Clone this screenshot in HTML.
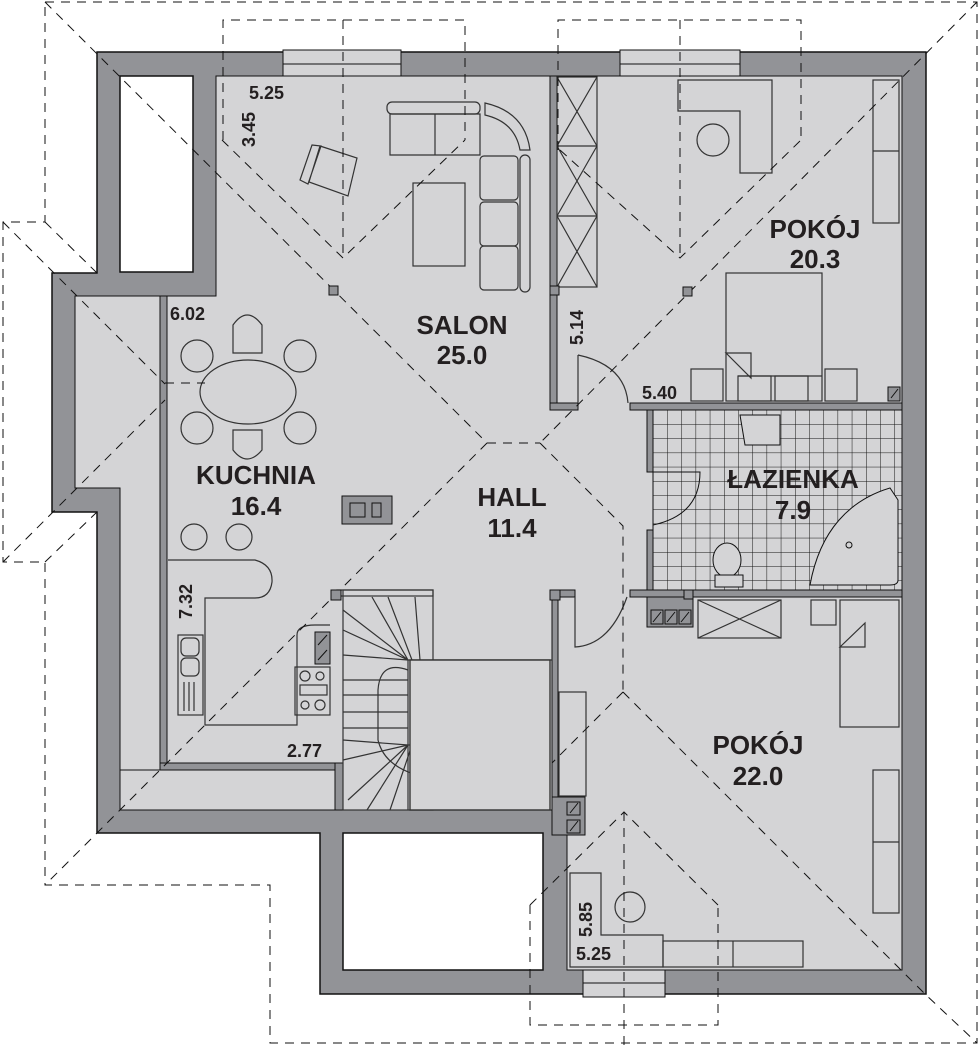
<!DOCTYPE html>
<html><head><meta charset="utf-8"><style>
html,body{margin:0;padding:0;background:#fff}
svg{display:block}
text{font-family:"Liberation Sans",sans-serif;font-weight:bold;fill:#231f20}
</style></head><body>
<svg width="978" height="1046" viewBox="0 0 978 1046" xmlns="http://www.w3.org/2000/svg">
<defs>
<pattern id="tile" x="653" y="410" width="14.2" height="14.2" patternUnits="userSpaceOnUse">
<rect width="14.2" height="14.2" fill="#d4d4d6"/>
<path d="M0 0H14.2M0 0V14.2" stroke="#111" stroke-width="1"/>
</pattern>
</defs>
<path d="M97 52H926V994H320V833H97V512H52V273H97Z" fill="#929397" stroke="#111" stroke-width="1.5"/>
<path d="M216 76H902V970H567V810H343V770H160V296H216Z" fill="#d4d4d6" stroke="#111" stroke-width="1"/>
<path d="M75 296H160V810H120V488H75Z" fill="#d4d4d6" stroke="#111"/>
<rect x="120" y="770" width="215" height="40" fill="#d4d4d6" stroke="#111"/>
<rect x="120" y="76" width="73" height="196" fill="#fff" stroke="#111" stroke-width="1.5"/>
<rect x="343" y="833" width="200" height="137" fill="#fff" stroke="#111" stroke-width="1.5"/>
<rect x="283" y="50" width="118" height="26" fill="#d4d4d6" stroke="#111"/>
<line x1="283" y1="64" x2="401" y2="64" stroke="#111"/>
<rect x="620" y="50" width="120" height="26" fill="#d4d4d6" stroke="#111"/>
<line x1="620" y1="64" x2="740" y2="64" stroke="#111"/>
<rect x="583" y="970" width="82" height="27" fill="#d4d4d6" stroke="#111"/>
<line x1="583" y1="983" x2="665" y2="983" stroke="#111"/>
<rect x="160" y="296" width="7" height="474" fill="#929397" stroke="#111"/>
<rect x="160" y="763" width="183" height="7" fill="#929397" stroke="#111"/>
<rect x="335" y="763" width="8" height="47" fill="#929397" stroke="#111"/>
<rect x="550" y="76" width="7" height="334" fill="#929397" stroke="#111"/>
<rect x="550" y="403" width="28" height="7" fill="#929397" stroke="#111"/>
<rect x="630" y="403" width="272" height="7" fill="#929397" stroke="#111"/>
<rect x="653" y="410" width="249" height="180" fill="url(#tile)" stroke="#111"/>
<rect x="647" y="410" width="6" height="62" fill="#929397" stroke="#111"/>
<rect x="647" y="530" width="6" height="65" fill="#929397" stroke="#111"/>
<rect x="630" y="590" width="272" height="7" fill="#929397" stroke="#111"/>
<rect x="552" y="590" width="23" height="7" fill="#929397" stroke="#111"/>
<rect x="647" y="597" width="46" height="30" fill="#929397" stroke="#111"/>
<rect x="552" y="597" width="6" height="200" fill="#929397" stroke="#111"/>
<rect x="552" y="797" width="33" height="38" fill="#929397" stroke="#111"/>
<path d="M810 585 C820 530 850 500 890 488 L898 500 V580 Q898 585 890 585Z" fill="#d4d4d6" stroke="#111"/>
<circle cx="849" cy="545" r="3" fill="none" stroke="#111"/>
<path d="M740 415H780V445H745Z" fill="#d4d4d6" stroke="#111"/>
<ellipse cx="727" cy="560" rx="14" ry="17" fill="#d4d4d6" stroke="#111"/>
<rect x="715" y="575" width="28" height="12" fill="#d4d4d6" stroke="#111"/>
<path d="M653 472H700Q700 515 653 525" fill="none" stroke="#111"/>
<g fill="#929397" stroke="#111">
<rect x="651" y="610" width="12" height="14"/><rect x="665" y="610" width="12" height="14"/><rect x="679" y="610" width="12" height="14"/>
<rect x="567" y="802" width="13" height="13"/><rect x="567" y="820" width="13" height="13"/>
<rect x="888" y="387" width="12" height="14"/>
<rect x="315" y="632" width="15" height="32"/>
<rect x="342" y="496" width="50" height="28"/>
</g>
<g stroke="#111" fill="none">
<path d="M653 622l8-10M667 622l8-10M681 622l8-10M570 813l8-10M570 831l8-10M891 398l7-9M318 645l9-10M318 660l9-10"/>
<rect x="350" y="503" width="15" height="14"/><rect x="372" y="503" width="9" height="14"/>
</g>
<g fill="none" stroke="#333" stroke-width="1.2">
<rect x="557" y="77" width="40" height="210"/>
<path d="M557 77L597 146M597 77L557 146M557 146L597 216M597 146L557 216M557 216L597 287M597 216L557 287M557 146H597M557 216H597"/>
<path d="M678 80H772V173H740V111H678Z"/>
<circle cx="713" cy="140" r="16"/>
<rect x="873" y="80" width="26" height="143"/><line x1="873" y1="151" x2="899" y2="151"/>
<rect x="726" y="273" width="96" height="128"/>
<rect x="691" y="369" width="32" height="32"/><rect x="825" y="369" width="32" height="32"/>
<path d="M726 353H751V378ZM738 376H822"/>
<rect x="738" y="376" width="33" height="25"/><rect x="775" y="376" width="33" height="25"/>
<path d="M578 355V403M578 355Q625 365 628 403"/>
<rect x="698" y="600" width="83" height="38"/><path d="M698 600L781 638M781 600L698 638"/>
<rect x="811" y="600" width="25" height="25"/>
<rect x="840" y="600" width="59" height="127"/><path d="M840 647L865 623V647Z"/>
<rect x="559" y="692" width="27" height="104"/>
<rect x="873" y="770" width="26" height="143"/><line x1="873" y1="842" x2="899" y2="842"/>
<path d="M570 873H601V935Q605 935 620 935H663V967H570Z"/>
<rect x="663" y="941" width="140" height="26"/><line x1="733" y1="941" x2="733" y2="967"/>
<circle cx="630" cy="907" r="15"/>
<path d="M575 597V647Q610 645 627 597"/>
<rect x="387" y="102" width="93" height="12" rx="5"/>
<path d="M390 114H480V155H390Z M435 114V155"/>
<path d="M485 103Q525 112 530 150L520 150Q515 122 485 115Z"/>
<rect x="480" y="156" width="38" height="44" rx="4"/><rect x="480" y="202" width="38" height="44" rx="4"/><rect x="480" y="246" width="38" height="44" rx="4"/>
<rect x="520" y="155" width="10" height="137" rx="5"/>
<rect x="413" y="183" width="52" height="83"/>
<path d="M320 146L357 158L348 196L309 182Z M312 145L321 146L308 184L300 180Z"/>
<ellipse cx="248" cy="392" rx="48" ry="32"/>
<path d="M233 353V325Q247 305 262 325V353Z M233 430V450Q247 468 262 450V430Z"/>
<circle cx="197" cy="356" r="16"/><circle cx="300" cy="356" r="16"/><circle cx="197" cy="428" r="16"/><circle cx="300" cy="428" r="16"/>
<circle cx="194" cy="537" r="13"/><circle cx="239" cy="537" r="13"/>
<path d="M168 560H255Q273 565 272 582Q270 598 255 598H205V725H297V635Q297 625 315 625H330"/>
<rect x="178" y="635" width="25" height="80"/>
<rect x="181" y="638" width="18" height="18" rx="5"/><rect x="181" y="658" width="18" height="18" rx="5"/>
<path d="M184 682V711M189 682V711M194 682V711"/>
<rect x="295" y="667" width="35" height="48"/>
<circle cx="305" cy="676" r="5"/><circle cx="320" cy="676" r="4"/><circle cx="305" cy="705" r="4"/><circle cx="320" cy="705" r="5"/>
<rect x="300" y="685" width="27" height="10"/>
<rect x="343" y="590" width="90" height="220"/>
<rect x="337" y="590" width="96" height="6"/>
<path d="M408 660H552M408 660V745H433M408 745V810"/>
<path d="M343 610L408 660M343 630L408 660M343 655L408 660M343 680H408M343 695H408M343 712H408M343 728H408M343 740L408 745M343 760L408 745M348 800L408 745M367 810L408 745M390 810L412 745M412 810L418 745M372 597L408 660M388 597L412 660M415 597L420 660"/>
<path d="M408 670Q380 660 378 690V740Q385 770 430 778"/>
<circle cx="433" cy="778" r="2" fill="#111"/>
<rect x="410" y="660" width="140" height="150" fill="#d4d4d6"/>
<path d="M410 660H550V810H410Z"/>
</g>
<g fill="none" stroke="#111" stroke-width="1" stroke-dasharray="9,7">
<path d="M45 2H977V1043H270V885H45V562H3V222H45Z"/>
<path d="M45 2L487 443M487 443H540M977 2L540 443M487 443L45 885M540 443L623 526V692M623 692L925 994L977 1043M623 692L552 763"/>
<path d="M223 140V20H465V140M343 20V258M222 140L343 258L465 140"/>
<path d="M558 150V20H801V140M680 20V258M560 150L680 258L801 140"/>
<path d="M530 905V1025H718V905M624 812V1046M530 905L624 812L718 905"/>
<path d="M3 222L165 384M3 562L165 400M45 222L97 273M45 562L97 512M165 383H205"/>
</g>
<g fill="#929397" stroke="#111">
<rect x="329" y="286" width="9" height="9"/><rect x="550" y="286" width="9" height="9"/><rect x="683" y="287" width="9" height="9"/>
<rect x="331" y="590" width="10" height="10"/><rect x="550" y="590" width="10" height="10"/><rect x="684" y="590" width="9" height="9"/>
</g>
<g font-size="26" text-anchor="middle">
<text x="462" y="334">SALON</text><text x="462" y="364">25.0</text>
<text x="815" y="238">POKÓJ</text><text x="815" y="268">20.3</text>
<text x="793" y="488">ŁAZIENKA</text><text x="793" y="519">7.9</text>
<text x="512" y="506">HALL</text><text x="512" y="537">11.4</text>
<text x="256" y="484">KUCHNIA</text><text x="256" y="515">16.4</text>
<text x="758" y="754">POKÓJ</text><text x="758" y="785">22.0</text>
</g>
<g font-size="18">
<text x="249" y="99">5.25</text>
<text x="170" y="320">6.02</text>
<text x="642" y="399">5.40</text>
<text x="287" y="757">2.77</text>
<text x="576" y="960">5.25</text>
<text transform="translate(255,147) rotate(-90)">3.45</text>
<text transform="translate(583,345) rotate(-90)">5.14</text>
<text transform="translate(192,619) rotate(-90)">7.32</text>
<text transform="translate(592,937) rotate(-90)">5.85</text>
</g>
</svg>
</body></html>
